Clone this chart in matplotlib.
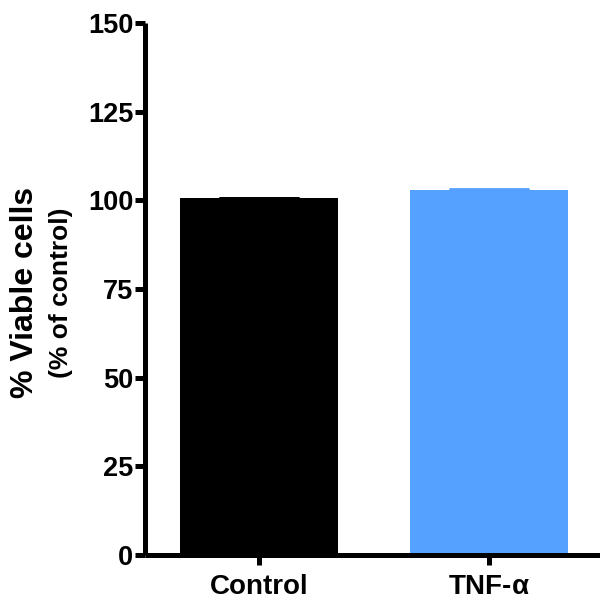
import matplotlib
matplotlib.use("Agg")
import matplotlib.pyplot as plt

# data
groups = ["Control", "TNF-$\\mathregular{\\alpha}$"]
viable = [100.6, 102.9]
sem = [0.0, 0.4]
colors = ["#000000", "#55A1FF"]
yticks = [0, 25, 50, 75, 100, 125, 150]

plt.rcParams["font.family"] = ["Liberation Sans", "DejaVu Sans"]
plt.rcParams["font.weight"] = "bold"

fig = plt.figure(figsize=(6.0, 6.03), dpi=100)
ax = fig.add_axes([0.2417, 0.0796, 0.7583, 0.8823])

xs = list(range(len(groups)))
ax.bar(xs, viable, width=0.687, color=colors, zorder=2)
for x, v, e, c in zip(xs, viable, sem, colors):
    ax.errorbar(x, v, yerr=[[0], [e]], color=c, capsize=28.8, capthick=2,
                elinewidth=2, zorder=3)

ax.set_xlim(-0.4957, 1.4826)
ax.set_ylim(0, 150)
ax.set_yticks(yticks)
ax.set_xticks(xs)
ax.set_xticklabels(groups)

for side in ["top", "right"]:
    ax.spines[side].set_visible(False)
for side in ["left", "bottom"]:
    ax.spines[side].set_linewidth(3.6)
    ax.spines[side].set_capstyle("butt")

ax.tick_params(axis="both", direction="out", width=3.6, length=7,
               labelsize=19.5, pad=1.5)
ax.tick_params(axis="x", labelsize=20, pad=6.5)
for lab in ax.get_xticklabels() + ax.get_yticklabels():
    lab.set_fontweight("bold")

fig.text(0.042, 0.515, "% Viable cells", rotation=90, fontsize=23,
         fontweight="bold", ha="center", va="center")
fig.text(0.101, 0.515, "(% of control)", rotation=90, fontsize=19,
         fontweight="bold", ha="center", va="center")

fig.savefig("out.png", dpi=100)
